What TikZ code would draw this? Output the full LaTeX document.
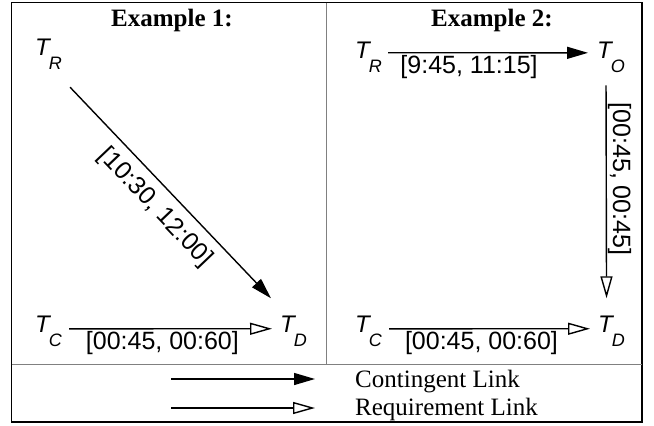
\documentclass[tikz,border=0pt]{standalone}
\usepackage{fontspec}
\setmainfont{Liberation Serif}
\newfontfamily\arial{Liberation Sans}
\usetikzlibrary{positioning,arrows.meta}

\newcommand{\tvar}[1]{{\arial\itshape\fontsize{24}{24}\selectfont T\kern-1pt\raisebox{-14pt}{\fontsize{18}{18}\selectfont #1}}}

\begin{document}
\begin{tikzpicture}[x=1pt,y=-1pt,>={Triangle[length=21pt,width=12pt]},
  event/.style={inner sep=0pt,anchor=base west},
  contingent/.style={->,line width=1.4pt},
  requirement/.style={-{Triangle[open,length=22pt,width=12pt]},line width=1.4pt},
  bound/.style={font=\arial\fontsize{25}{25}\selectfont,inner sep=2pt},
  heading/.style={font=\bfseries\fontsize{25}{25}\selectfont,anchor=base,inner sep=0pt},
  legend/.style={font=\fontsize{25}{25}\selectfont,anchor=base west,inner sep=0pt},
  divider/.style={gray,line width=1pt}]
\useasboundingbox (0,0) rectangle (654,426);
% frame and dividers
\draw[line width=1.5pt] (11.5,2.5) rectangle (642,422);
\draw[divider] (326.5,2.5) -- (326.5,364);
\draw[divider] (11.5,364) -- (642,364);

\node[heading] (head1) at (172,26) {Example 1:};
\node[heading] (head2) at (492,26) {Example 2:};

% example 1
\node[event] (TR1) at (35,55) {\tvar{R}};
\node[event] (TC1) at (35,332) {\tvar{C}};
\node[event] (TD1) at (280,332) {\tvar{D}};
\draw[contingent] ([shift={(8,18)}]TR1.south east) -- ([shift={(-9,-17)}]TD1.north west)
  node[bound,sloped,below=7pt,midway] {[10:30, 12:00]};
\draw[requirement] ([shift={(7,-2)}]TC1.east) -- ([shift={(-8,-2)}]TD1.west)
  node[bound,below,pos=0.46] {[00:45, 00:60]};

% example 2
\node[event] (TR2) at (355,58) {\tvar{R}};
\node[event] (TO2) at (597,58) {\tvar{O}};
\node[event] (TC2) at (355,332) {\tvar{C}};
\node[event] (TD2) at (598,332) {\tvar{D}};
\draw[contingent] ([shift={(6,-4)}]TR2.east) -- ([shift={(-9,-4)}]TO2.west)
  node[bound,below,pos=0.405] {[9:45, 11:15]};
\draw[requirement] ([shift={(-5,13)}]TO2.south) -- ([shift={(-5,-17)}]TD2.north)
  node[bound,rotate=-90,anchor=south,pos=0.44,inner sep=1pt] {[00:45, 00:45]};
\draw[requirement] ([shift={(7,-2)}]TC2.east) -- ([shift={(-8,-2)}]TD2.west)
  node[bound,below,pos=0.46] {[00:45, 00:60]};

% legend
\node[legend] (cont) at (355,387) {Contingent Link};
\node[legend] (req) at (355,415) {Requirement Link};
\coordinate (cs) at (171,379);
\coordinate (ce) at (315,379);
\coordinate (rs) at (171,408);
\coordinate (re) at (315,408);
\draw[contingent] (cs) -- (ce);
\draw[requirement] (rs) -- (re);
\end{tikzpicture}
\end{document}
